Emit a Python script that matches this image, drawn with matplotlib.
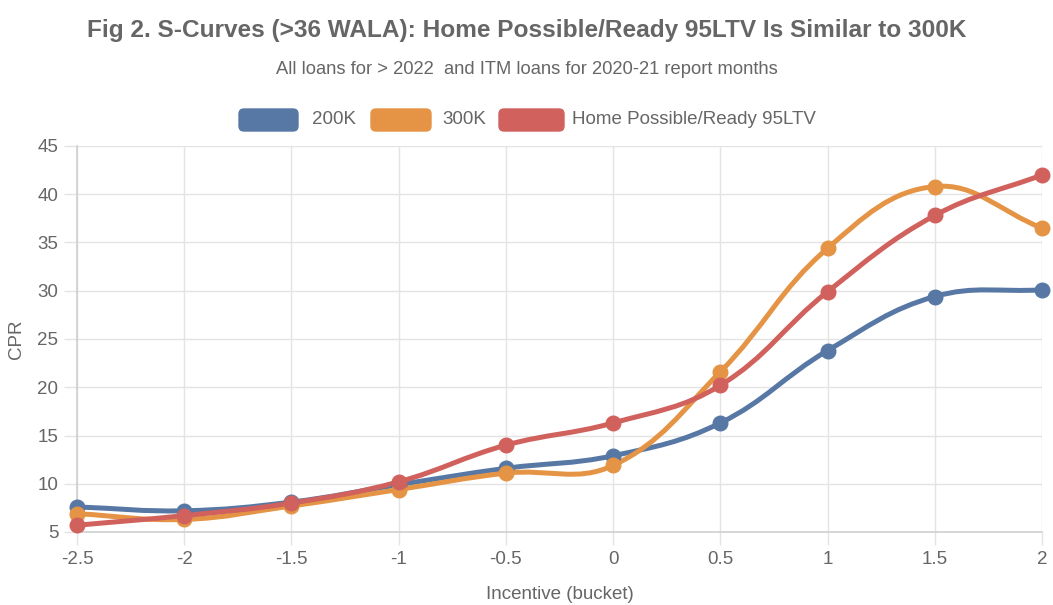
import matplotlib.pyplot as plt
from matplotlib.path import Path
from matplotlib.patches import PathPatch, FancyBboxPatch
from matplotlib.transforms import IdentityTransform
import numpy as np

plt.rcParams['font.family'] = ['Liberation Sans', 'DejaVu Sans']

incentive = [-2.5, -2, -1.5, -1, -0.5, 0, 0.5, 1, 1.5, 2]
cpr_200k = [7.6, 7.2, 8.1, 9.9, 11.6, 12.9, 16.3, 23.8, 29.4, 30.1]
cpr_300k = [6.9, 6.3, 7.7, 9.4, 11.1, 11.9, 21.6, 34.4, 40.8, 36.5]
cpr_hp95 = [5.7, 6.7, 8.0, 10.2, 14.0, 16.3, 20.2, 29.9, 37.8, 42.0]

series = [
    ('200K', cpr_200k, '#5778a4'),
    ('300K', cpr_300k, '#e49444'),
    ('Home Possible/Ready 95LTV', cpr_hp95, '#d1615d'),
]

W, H = 1053, 605
fig = plt.figure(figsize=(W / 100, H / 100), dpi=100)
left, right, top, bottom = 77, 1042, 146, 532
ax = fig.add_axes([left / W, 1 - bottom / H, (right - left) / W, (bottom - top) / H])
ax.set_xlim(-2.5, 2)
ax.set_ylim(5, 45)

# pixel scale, used for the spline like chart.js does it
sx = (right - left) / 4.5
sy = (bottom - top) / 40.0


def spline_path(xs, ys, tension=0.4):
    px = np.array(xs) * sx
    py = np.array(ys) * sy
    n = len(px)
    cps = []
    for i in range(n):
        p0 = (px[max(i - 1, 0)], py[max(i - 1, 0)])
        p1 = (px[i], py[i])
        p2 = (px[min(i + 1, n - 1)], py[min(i + 1, n - 1)])
        d01 = np.hypot(p1[0] - p0[0], p1[1] - p0[1])
        d12 = np.hypot(p2[0] - p1[0], p2[1] - p1[1])
        tot = d01 + d12
        s01 = d01 / tot if tot else 0
        s12 = d12 / tot if tot else 0
        fa = tension * s01
        fb = tension * s12
        prev_cp = (p1[0] - fa * (p2[0] - p0[0]), p1[1] - fa * (p2[1] - p0[1]))
        next_cp = (p1[0] + fb * (p2[0] - p0[0]), p1[1] + fb * (p2[1] - p0[1]))
        cps.append((prev_cp, next_cp))
    verts = [(px[0] / sx, py[0] / sy)]
    codes = [Path.MOVETO]
    for i in range(1, n):
        c1 = cps[i - 1][1]
        c2 = cps[i][0]
        verts += [(c1[0] / sx, c1[1] / sy), (c2[0] / sx, c2[1] / sy), (px[i] / sx, py[i] / sy)]
        codes += [Path.CURVE4] * 3
    return Path(verts, codes)


for name, vals, color in series:
    patch = PathPatch(spline_path(incentive, vals), facecolor='none', edgecolor=color,
                      lw=3.6, capstyle='round', joinstyle='round', zorder=3)
    patch.set_clip_on(False)
    ax.add_patch(patch)
    ax.plot(incentive, vals, 'o', color=color, ms=10.5, zorder=4, clip_on=False)

grid_c = '#e4e4e4'
ax.set_xticks(incentive)
ax.set_xticklabels(['-2.5', '-2', '-1.5', '-1', '-0.5', '0', '0.5', '1', '1.5', '2'])
ax.set_yticks(range(5, 46, 5))
ax.grid(True, color=grid_c, lw=1)
ax.set_axisbelow(True)
for s in ['top', 'right']:
    ax.spines[s].set_visible(False)
for s in ['left', 'bottom']:
    ax.spines[s].set_color('#cfcfcf')
    ax.spines[s].set_linewidth(1.2)
ax.tick_params(length=9.5, width=1, color=grid_c, labelcolor='#666666', labelsize=13.5, pad=4)

ax.set_xlabel('Incentive (bucket)', color='#666666', fontsize=13.5, labelpad=13)
ax.set_ylabel('CPR', color='#666666', fontsize=13.5, labelpad=9)

fig.text(0.5, 1 - 31 / H, 'Fig 2. S-Curves (>36 WALA): Home Possible/Ready 95LTV Is Similar to 300K',
         ha='center', va='center', fontsize=17.6, fontweight='bold', color='#666666')
fig.text(0.5, 1 - 70 / H, 'All loans for > 2022  and ITM loans for 2020-21 report months',
         ha='center', va='center', fontsize=13.2, color='#666666')

# legend drawn by hand to get the wide rounded chart.js boxes
legend_y = H - 120
boxes = [(239, 298), (371, 431), (499, 564)]
text_x = [312, 442, 572]
for (x0, x1), tx, (name, vals, color) in zip(boxes, text_x, series):
    box = FancyBboxPatch((x0 + 4, legend_y - 7), x1 - x0 - 8, 14,
                         boxstyle='round,pad=4,rounding_size=5',
                         facecolor=color, edgecolor=color, transform=IdentityTransform())
    fig.patches.append(box)
    fig.text(tx / W, legend_y / H, name, ha='left', va='center', fontsize=13.5, color='#666666')

fig.savefig('out.png', dpi=100)
